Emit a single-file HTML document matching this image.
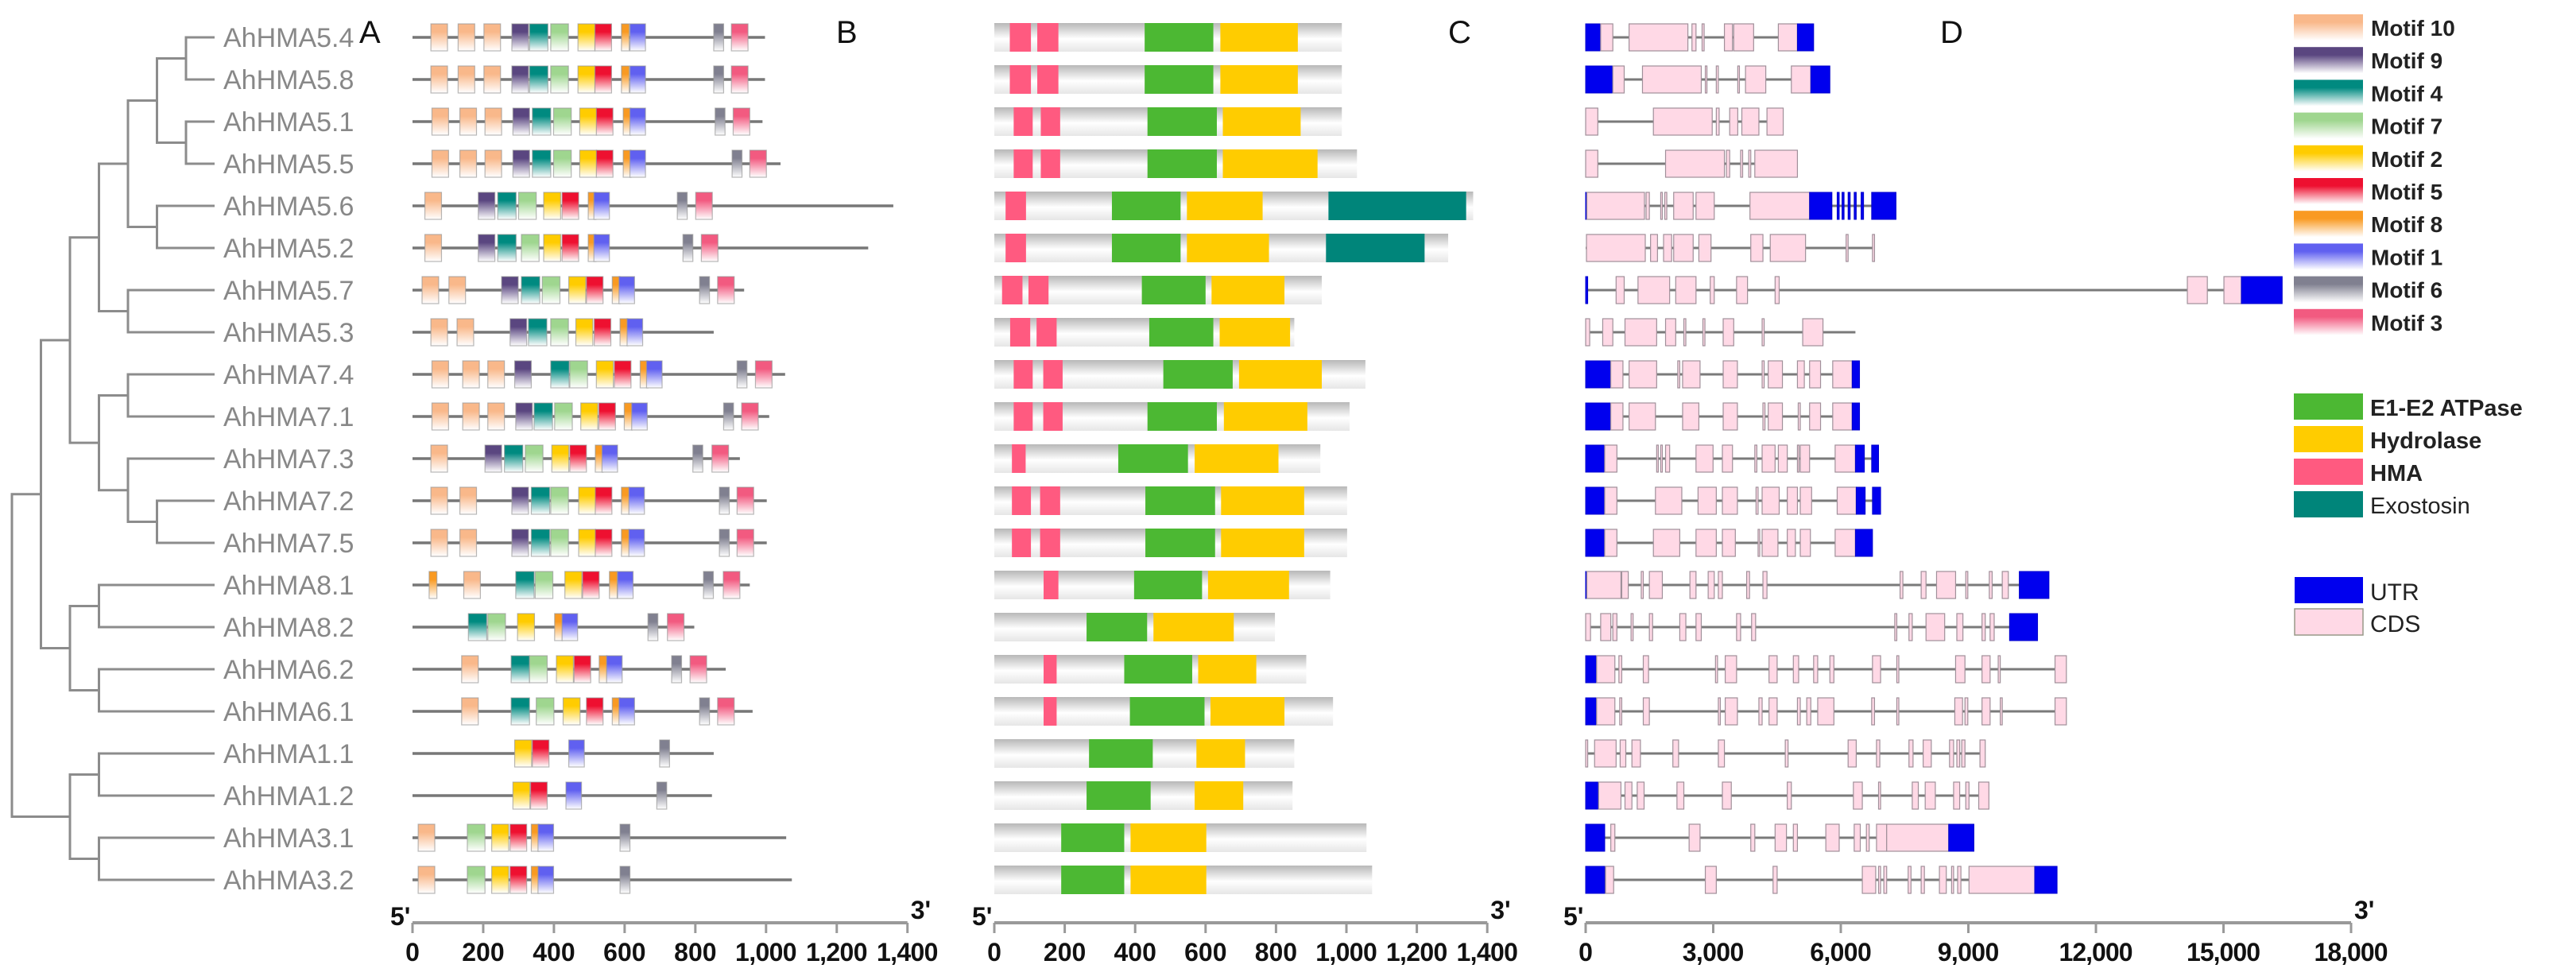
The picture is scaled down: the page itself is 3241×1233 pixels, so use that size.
<!DOCTYPE html>
<html><head><meta charset="utf-8"><style>
html,body{margin:0;padding:0;background:#fff;}
svg{display:block;font-family:"Liberation Sans",Arial,sans-serif;}
</style></head><body>
<svg id="fig" xmlns="http://www.w3.org/2000/svg" width="3241" height="1233" viewBox="0 0 3241 1233">
<defs id="defs"></defs>
<g id="tree"></g>
<g id="labels"></g>
<g id="panelB"></g>
<g id="panelC"></g>
<g id="panelD"></g>
<g id="axes"></g>
<g id="legend"></g>
<text x="452" y="54" font-size="40" fill="#111">A</text>
<text x="1052" y="54" font-size="40" fill="#111">B</text>
<text x="1822" y="54" font-size="40" fill="#111">C</text>
<text x="2441" y="54" font-size="40" fill="#111">D</text>
</svg>
<script>
const genes=["AhHMA5.4","AhHMA5.8","AhHMA5.1","AhHMA5.5","AhHMA5.6","AhHMA5.2","AhHMA5.7","AhHMA5.3","AhHMA7.4","AhHMA7.1","AhHMA7.3","AhHMA7.2","AhHMA7.5","AhHMA8.1","AhHMA8.2","AhHMA6.2","AhHMA6.1","AhHMA1.1","AhHMA1.2","AhHMA3.1","AhHMA3.2"];
// tree: [level, childA, childB]; leaves are gene indices
const treeRoot=[0,[1,[2,[3,[4,[5,[6,0,1],[6,2,3]],[5,4,5]],[4,6,7]],[3,[4,8,9],[4,10,[5,11,12]]]],[2,[3,13,14],[3,15,16]]],[2,[3,17,18],[3,19,20]]];
// panel B: protein length (aa) and motifs [motif, start]
const protLen=[997,997,990,1041,1360,1289,938,852,1054,1009,926,1002,1002,954,797,886,962,852,847,1057,1073];
const motifWidth={10:47,9:47,4:52,7:50,2:48,5:47,8:22,1:44,6:28,3:47};
const motifs=[
[[10,52],[10,129],[10,202],[9,281],[4,331],[7,391],[2,468],[5,516],[8,591],[1,615],[6,852],[3,902]],
[[10,52],[10,129],[10,202],[9,281],[4,331],[7,391],[2,468],[5,516],[8,591],[1,615],[6,852],[3,902]],
[[10,55],[10,134],[10,205],[9,284],[4,339],[7,399],[2,473],[5,520],[8,596],[1,615],[6,856],[3,907]],
[[10,55],[10,134],[10,205],[9,284],[4,339],[7,399],[2,473],[5,520],[8,596],[1,615],[6,904],[3,954]],
[[10,35],[9,186],[4,241],[7,300],[2,371],[5,423],[8,497],[1,513],[6,749],[3,801]],
[[10,35],[9,186],[4,241],[7,308],[2,371],[5,423],[8,497],[1,513],[6,765],[3,817]],
[[10,27],[10,103],[9,252],[4,308],[7,367],[2,442],[5,492],[8,565],[1,584],[6,812],[3,863]],
[[10,52],[10,126],[9,276],[4,328],[7,391],[2,462],[5,514],[8,587],[1,607]],
[[10,55],[10,142],[10,213],[9,289],[4,391],[7,445],[2,520],[5,571],[8,644],[1,662],[6,918],[3,970]],
[[10,55],[10,142],[10,213],[9,292],[4,344],[7,402],[2,476],[5,527],[8,599],[1,620],[6,880],[3,931]],
[[10,52],[9,205],[4,260],[7,319],[2,394],[5,445],[8,517],[1,536],[6,793],[3,847]],
[[10,52],[10,134],[9,281],[4,336],[7,391],[2,470],[5,517],[8,591],[1,612],[6,868],[3,918]],
[[10,52],[10,134],[9,281],[4,336],[7,391],[2,470],[5,517],[8,591],[1,612],[6,868],[3,918]],
[[8,47],[10,145],[4,292],[7,347],[2,431],[5,481],[8,557],[1,580],[6,823],[3,879]],
[[4,158],[7,213],[2,297],[8,402],[1,423],[6,666],[3,721]],
[[10,139],[4,279],[7,331],[2,407],[5,457],[8,528],[1,549],[6,733],[3,785]],
[[10,139],[4,279],[7,350],[2,426],[5,492],[8,565],[1,584],[6,812],[3,863]],
[[2,289],[5,339],[1,442],[6,699]],
[[2,284],[5,334],[1,434],[6,691]],
[[10,16],[7,155],[2,224],[5,276],[8,336],[1,355],[6,587]],
[[10,16],[7,155],[2,224],[5,276],[8,336],[1,355],[6,587]]];
// panel C: domains [type,start,end]
const domainLen=[987,987,987,1030,1360,1289,930,852,1054,1009,926,1002,1002,954,797,886,962,852,847,1057,1073];
const domains=[
[["H",44,104],["H",122,182],["E",427,622],["Y",642,862]],
[["H",44,104],["H",122,182],["E",427,622],["Y",642,862]],
[["H",55,109],["H",132,187],["E",435,632],["Y",649,870]],
[["H",55,109],["H",132,187],["E",435,632],["Y",649,918]],
[["H",32,90],["E",334,529],["Y",547,762],["X",949,1340]],
[["H",32,90],["E",334,529],["Y",547,780],["X",942,1222]],
[["H",22,80],["H",97,154],["E",419,600],["Y",617,824]],
[["H",45,102],["H",120,177],["E",440,622],["Y",640,840]],
[["H",55,109],["H",139,194],["E",480,677],["Y",695,930]],
[["H",55,109],["H",139,194],["E",435,632],["Y",652,889]],
[["H",50,89],["E",352,550],["Y",569,807]],
[["H",50,104],["H",130,187],["E",429,627],["Y",644,880]],
[["H",50,104],["H",130,187],["E",429,627],["Y",644,880]],
[["H",140,182],["E",397,590],["Y",607,837]],
[["E",262,434],["Y",452,680]],
[["H",140,177],["E",369,562],["Y",579,744]],
[["H",140,177],["E",385,597],["Y",614,824]],
[["E",269,450],["Y",574,712]],
[["E",262,444],["Y",569,707]],
[["E",190,369],["Y",387,602]],
[["E",190,369],["Y",387,602]]];
// panel D: gene length (bp) and exons [type,start,end]
const geneLen=[5361,5743,4646,4980,7298,6793,16380,6344,6440,6440,6888,6936,6745,10895,10627,11305,11305,9397,9483,9130,11086];
const exons=[
[["U",0,353],["C",353,639],["C",1021,2404],["C",2500,2595],["C",2738,2786],["C",3263,3453],["C",3482,3950],["C",4531,4980],["U",4980,5361]],
[["U",0,639],["C",639,906],["C",1336,2719],["C",2814,2852],["C",3072,3120],["C",3577,3616],["C",3759,4236],["C",4837,5295],["U",5295,5743]],
[["C",0,286],["C",1593,2976],["C",3072,3139],["C",3387,3577],["C",3673,4074],["C",4264,4646]],
[["C",0,286],["C",1879,3263],["C",3310,3387],["C",3644,3692],["C",3835,3883],["C",3978,4980]],
[["U",0,29],["C",29,1383],["C",1421,1498],["C",1765,1803],["C",1860,1908],["C",2070,2528],["C",2595,3024],["C",3864,5266],["U",5266,5791],["U",5915,5962],["U",6029,6077],["U",6172,6220],["U",6315,6363],["U",6478,6535],["U",6726,7298]],
[["C",19,1402],["C",1526,1689],["C",1832,2022],["C",2070,2528],["C",2662,2948],["C",3883,4169],["C",4341,5171],["C",6125,6172],["C",6745,6793]],
[["U",0,48],["C",716,906],["C",1231,1975],["C",2118,2595],["C",2929,3024],["C",3549,3806],["C",4455,4551],["C",14150,14620],["C",15010,15420],["U",15420,16380]],
[["C",0,95],["C",401,639],["C",925,1670],["C",1879,2118],["C",2309,2356],["C",2757,2805],["C",3234,3482],["C",4150,4198],["C",5104,5581]],
[["U",0,591],["C",591,877],["C",1021,1670],["C",2166,2213],["C",2280,2690],["C",3234,3568],["C",4150,4198],["C",4293,4627],["C",4980,5142],["C",5266,5524],["C",5810,6268],["U",6268,6440]],
[["U",0,591],["C",591,877],["C",1021,1641],["C",2280,2662],["C",3234,3568],["C",4169,4217],["C",4293,4627],["C",4999,5047],["C",5266,5524],["C",5810,6268],["U",6268,6440]],
[["U",0,448],["C",448,735],["C",1670,1708],["C",1765,1803],["C",1879,1975],["C",2595,2996],["C",3215,3453],["C",3978,4026],["C",4150,4455],["C",4531,4741],["C",4980,5009],["C",5047,5266],["C",5867,6344],["U",6344,6554],["U",6726,6888]],
[["U",0,448],["C",448,735],["C",1641,2261],["C",2643,3072],["C",3215,3568],["C",4007,4055],["C",4150,4551],["C",4741,4980],["C",5047,5314],["C",5915,6363],["U",6363,6573],["U",6745,6936]],
[["U",0,448],["C",448,735],["C",1593,2213],["C",2595,3072],["C",3215,3520],["C",4055,4093],["C",4150,4522],["C",4741,4932],["C",5047,5285],["C",5867,6344],["U",6344,6745]],
[["U",0,29],["C",29,830],["C",849,1002],["C",1307,1355],["C",1498,1803],["C",2452,2595],["C",2881,3024],["C",3120,3215],["C",3787,3854],["C",4169,4264],["C",7394,7460],["C",7890,8004],["C",8252,8700],["C",8939,8987],["C",9492,9559],["C",9797,9940],["U",10198,10895]],
[["C",0,114],["C",353,591],["C",639,735],["C",1068,1116],["C",1498,1574],["C",2213,2356],["C",2595,2719],["C",3549,3644],["C",3902,3997],["C",7269,7317],["C",7603,7680],["C",8004,8443],["C",8729,8872],["C",9321,9397],["C",9511,9607],["U",9969,10627]],
[["U",0,258],["C",258,687],["C",782,849],["C",1355,1479],["C",3053,3101],["C",3282,3549],["C",4312,4503],["C",4884,5009],["C",5361,5457],["C",5743,5838],["C",6745,6936],["C",7317,7365],["C",8700,8920],["C",9321,9511],["C",9702,9750],["C",11038,11305]],
[["U",0,258],["C",258,687],["C",801,849],["C",1355,1498],["C",3120,3167],["C",3282,3568],["C",4074,4150],["C",4312,4503],["C",4980,5047],["C",5199,5295],["C",5457,5838],["C",6726,6793],["C",7317,7365],["C",8681,8863],["C",8920,8987],["C",9321,9511],["C",9750,9797],["C",11038,11305]],
[["C",0,48],["C",210,716],["C",811,944],["C",1088,1288],["C",2051,2185],["C",3120,3263],["C",4694,4760],["C",6172,6363],["C",6840,6917],["C",7603,7699],["C",7937,8128],["C",8557,8653],["C",8729,8796],["C",8844,8920],["C",9273,9397]],
[["U",0,305],["C",305,830],["C",925,1088],["C",1212,1374],["C",2147,2309],["C",3215,3425],["C",4741,4837],["C",6296,6506],["C",6888,6936],["C",7680,7823],["C",7985,8223],["C",8653,8796],["C",8939,9015],["C",9244,9483]],
[["U",0,448],["C",591,687],["C",2433,2690],["C",3883,3978],["C",4455,4722],["C",4884,4980],["C",5648,5962],["C",6315,6458],["C",6602,6668],["C",6840,7079],["C",7079,8538],["U",8538,9130]],
[["U",0,448],["C",467,658],["C",2814,3072],["C",4407,4503],["C",6506,6821],["C",6888,6936],["C",7012,7079],["C",7584,7651],["C",7890,7966],["C",8319,8481],["C",8605,8653],["C",8748,8825],["C",9015,10561],["U",10561,11086]]];
const ticksAA=[0,200,400,600,800,1000,1200,1400];
const tickLabelsAA=["0","200","400","600","800","1,000","1,200","1,400"];
const ticksBP=[0,3000,6000,9000,12000,15000,18000];
const tickLabelsBP=["0","3,000","6,000","9,000","12,000","15,000","18,000"];
const motifLegend=[10,9,4,7,2,5,8,1,6,3];
const domainLegend=["E","Y","H","X"];
const domainNames={E:"E1-E2  ATPase",Y:"Hydrolase",H:"HMA",X:"Exostosin"};

const motifColor={10:"#f9b88a",9:"#5a4680",4:"#008a80",7:"#9fd68f",2:"#ffcc00",5:"#ee1030",8:"#f99a22",1:"#6060f0",6:"#808090",3:"#f25a80"};
const domainColor={E:"#4cb833",Y:"#ffcc00",H:"#ff5a80",X:"#00857a"};
const NS="http://www.w3.org/2000/svg";
function mk(tag,attrs,parent){const e=document.createElementNS(NS,tag);for(const k in attrs)e.setAttribute(k,attrs[k]);parent.appendChild(e);return e;}
const rowY=i=>47+i*53;
const xB=v=>519+v*0.4448;
const xC=v=>1251+v*0.4430;
const xD=v=>1995+v*0.05350;
const defs=document.getElementById('defs');
for(const m in motifColor){const g=mk('linearGradient',{id:'mg'+m,x1:0,y1:0,x2:0,y2:1},defs);
mk('stop',{offset:'0',  'stop-color':motifColor[m]},g);mk('stop',{offset:'0.3','stop-color':motifColor[m]},g);mk('stop',{offset:'1','stop-color':'#ffffff'},g);}
{const g=mk('linearGradient',{id:'greyg',x1:0,y1:0,x2:0,y2:1},defs);
mk('stop',{offset:'0','stop-color':'#b8b8b8'},g);mk('stop',{offset:'0.55','stop-color':'#ffffff'},g);mk('stop',{offset:'1','stop-color':'#e6e6e6'},g);}

// tree
const tree=document.getElementById('tree');
const lvlX=l=>15+l*36.5;
function drawNode(n){
  if(typeof n==='number'){return {x:270,y:rowY(n)};}
  const a=drawNode(n[1]),b=drawNode(n[2]);const x=lvlX(n[0]);
  const l1=mk('line',{x1:x,y1:a.y,x2:x,y2:b.y,stroke:'#8c8c8c','stroke-width':3},tree);
  
  
  for(const c of [a,b]){const l=mk('line',{x1:x-1.5,y1:c.y,x2:c.x,y2:c.y,stroke:'#8c8c8c','stroke-width':3},tree);
  
  }
  return {x:x,y:(a.y+b.y)/2};
}
drawNode(treeRoot);
const labels=document.getElementById('labels');
genes.forEach((g,i)=>{const t=mk('text',{x:281,y:rowY(i)+12,'font-size':34,fill:'#888'},labels);t.textContent=g;

});

// panel B
const pB=document.getElementById('panelB');
protLen.forEach((L,i)=>{const y=rowY(i);
 const ln=mk('line',{x1:xB(0),y1:y,x2:xB(L),y2:y,stroke:'#777','stroke-width':3.5},pB);
 
 
 motifs[i].forEach(([m,s])=>{const r=mk('rect',{x:xB(s),y:y-17,width:xB(s+motifWidth[m])-xB(s),height:34,fill:'url(#mg'+m+')',stroke:'#999','stroke-width':1.2,'stroke-opacity':0.7},pB);
 
 });
});
// panel C
const pC=document.getElementById('panelC');
domainLen.forEach((L,i)=>{const y=rowY(i);
 const r=mk('rect',{x:xC(0),y:y-18,width:xC(L)-xC(0),height:36,fill:'url(#greyg)'},pC);
 
 
 domains[i].forEach(([t,s,e])=>{const d=mk('rect',{x:xC(s),y:y-18,width:xC(e)-xC(s),height:36,fill:domainColor[t]},pC);
 
 });
});
// panel D
const pD=document.getElementById('panelD');
geneLen.forEach((L,i)=>{const y=rowY(i);
 const ln=mk('line',{x1:xD(0),y1:y,x2:xD(L),y2:y,stroke:'#7a7a7a','stroke-width':3},pD);
 
 
 exons[i].forEach(([t,s,e])=>{const w=Math.max(xD(e)-xD(s),2);
 const r=mk('rect',{x:xD(s),y:y-17,width:w,height:34,fill:t==='U'?'#0000ee':'#ffd9e6',stroke:t==='U'?'#0000cc':'#a0909a','stroke-width':t==='U'?1:1.2},pD);
 
 });
});
// axes
const ax=document.getElementById('axes');
function axis(x0,x1,ticks,labs,fx,nm){
 const l=mk('line',{x1:x0,y1:1161,x2:x1,y2:1161,stroke:'#999','stroke-width':4},ax);
 
 
 ticks.forEach((v,k)=>{const x=fx(v);
  const tk=mk('line',{x1:x,y1:1161,x2:x,y2:1174,stroke:'#999','stroke-width':3},ax);
  
  
  const t=mk('text',{x:x,y:1209,'font-size':32,'font-weight':'bold','text-anchor':'middle',fill:'#111',textLength:labs[k].length>3?labs[k].length*15.5:null},ax);
  if(labs[k].length<=3)t.removeAttribute('textLength');
  t.textContent=labs[k];
  
  });
 const a=mk('text',{x:x0-28,y:1164,'font-size':32,'font-weight':'bold',fill:'#111'},ax);a.textContent="5'";
 
 
 const b=mk('text',{x:x1+4,y:1156,'font-size':32,'font-weight':'bold',fill:'#111'},ax);b.textContent="3'";
 
 
}
axis(xB(0),xB(1400),ticksAA,tickLabelsAA,xB,'motif');
axis(xC(0),xC(1400),ticksAA,tickLabelsAA,xC,'domain');
axis(xD(0),xD(18000),ticksBP,tickLabelsBP,xD,'gene');
// legend
const lg=document.getElementById('legend');
motifLegend.forEach((m,k)=>{const y=18+k*41.2;
 const r=mk('rect',{x:2886,y:y,width:87,height:33,fill:'url(#mg'+m+')'},lg);
 
 
 const t=mk('text',{x:2983,y:y+27,'font-size':28,'font-weight':'bold',fill:'#222'},lg);t.textContent='Motif '+m;
 
 });
domainLegend.forEach((d,k)=>{const y=495+k*41;
 const r=mk('rect',{x:2886,y:y,width:87,height:33,fill:domainColor[d]},lg);
 
 
 const t=mk('text',{x:2982,y:y+28,'font-size':29,'font-weight':d==='X'?'normal':'bold',fill:'#222'},lg);t.textContent=domainNames[d];
 
 });
[["UTR","#0000ee"],["CDS","#ffd9e6"]].forEach(([n,c],k)=>{const y=726+k*40;
 const r=mk('rect',{x:2887,y:y,width:86,height:33,fill:c,stroke:k?'#998':'none','stroke-width':1.5},lg);
 
 
 const t=mk('text',{x:2982,y:y+29,'font-size':30,fill:'#222'},lg);t.textContent=n;
 
 });
</script>
</body></html>
